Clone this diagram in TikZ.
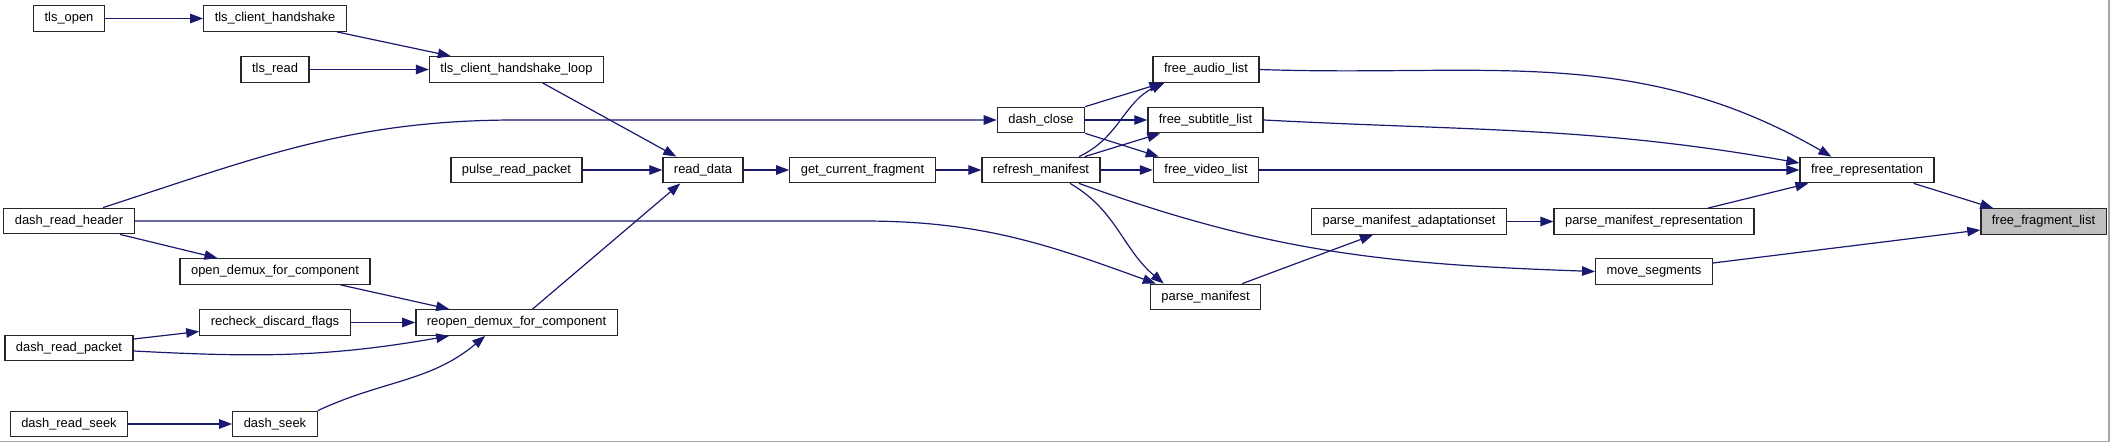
\documentclass[tikz,border=0pt]{standalone}
\usepackage{fontspec}
\setmainfont{Liberation Sans}
\usetikzlibrary{arrows.meta}
\definecolor{callblue}{RGB}{25,25,112}

\begin{document}
\begin{tikzpicture}[x=1pt,y=1pt,font=\fontsize{12.9}{15}\selectfont,>={Triangle[length=13pt,width=9.5pt]},
  fn/.style={draw=black!85,fill=white,line width=1.3pt,minimum height=25.5pt,inner xsep=11pt,inner ysep=0pt},
  cur/.style={fn,fill=black!25},
  cl/.style={->,draw=callblue,line width=1.2pt}]
  \useasboundingbox (0,0) rectangle (2111,-443);
  \draw[black!35,line width=1.5pt] (2109,0) -- (2109,-441.5) -- (0,-441.5);
  % callers, left to right
  \node[fn] (tlsopen) at (69,-18.5) {tls\_open};
  \node[fn] (tlshs) at (275,-18.5) {tls\_client\_handshake};
  \node[fn] (tlsread) at (275,-69.5) {tls\_read};
  \node[fn] (tlsloop) at (516.5,-69.5) {tls\_client\_handshake\_loop};
  \node[fn] (pulse) at (516.5,-170) {pulse\_read\_packet};
  \node[fn] (readdata) at (703,-170) {read\_data};
  \node[fn] (getfrag) at (862.5,-170) {get\_current\_fragment};
  \node[fn] (refresh) at (1041,-170) {refresh\_manifest};
  \node[fn] (dashclose) at (1041,-120) {dash\_close};
  \node[fn] (audio) at (1206,-69.5) {free\_audio\_list};
  \node[fn] (subtitle) at (1205.5,-120) {free\_subtitle\_list};
  \node[fn] (video) at (1206,-170) {free\_video\_list};
  \node[fn] (parsemf) at (1205.5,-297) {parse\_manifest};
  \node[fn] (adapt) at (1409,-221.5) {parse\_manifest\_adaptationset};
  \node[fn] (rep) at (1654,-221.5) {parse\_manifest\_representation};
  \node[fn] (moveseg) at (1654,-271.5) {move\_segments};
  \node[fn] (freerep) at (1867,-170) {free\_representation};
  \node[cur] (fraglist) at (2043.5,-221.5) {free\_fragment\_list};
  \node[fn] (header) at (69,-221) {dash\_read\_header};
  \node[fn] (opendemux) at (275,-271.5) {open\_demux\_for\_component};
  \node[fn] (recheck) at (275,-322.5) {recheck\_discard\_flags};
  \node[fn] (reopen) at (516.5,-322.5) {reopen\_demux\_for\_component};
  \node[fn] (packet) at (69,-348) {dash\_read\_packet};
  \node[fn] (readseek) at (69,-424) {dash\_read\_seek};
  \node[fn] (dashseek) at (275,-424) {dash\_seek};
  % calls
  \draw[cl] (tlsopen) -- (tlshs);
  \draw[cl] ([xshift=-10pt]tlshs.south east) -- ([xshift=22pt]tlsloop.north west);
  \draw[cl] (tlsread) -- (tlsloop);
  \draw[cl] ([xshift=26pt]tlsloop.south) -- ([xshift=14pt]readdata.north west);
  \draw[cl] (pulse) -- (readdata);
  \draw[cl] ([xshift=16pt]reopen.north) -- ([xshift=18pt]readdata.south west);
  \draw[cl] (readdata) -- (getfrag);
  \draw[cl] (getfrag) -- (refresh);
  \draw[cl] ([xshift=38pt]refresh.north) to[out=25,in=-155] ([xshift=12pt]audio.south west);
  \draw[cl] ([xshift=-16pt]refresh.north east) -- ([xshift=13pt]subtitle.south west);
  \draw[cl] (refresh) -- (video);
  \draw[cl] ([xshift=29pt]refresh.south) to[out=-30,in=140] ([xshift=14pt]parsemf.north west);
  \draw[cl] ([xshift=38pt]refresh.south) to[out=-20,in=178] (moveseg.west);
  \draw[cl] (dashclose.north east) -- ([xshift=10pt]audio.south west);
  \draw[cl] (dashclose) -- (subtitle);
  \draw[cl] (dashclose.south east) -- ([xshift=6pt]video.north west);
  \draw[cl] ([xshift=34pt]header.north) to[out=18,in=180] (tlsloop |- dashclose.west) -- (dashclose.west);
  \draw[cl] (header.east) -- (getfrag |- header.east) to[out=0,in=160] ([xshift=6pt]parsemf.north west);
  \draw[cl] ([xshift=51pt]header.south) -- ([xshift=38pt]opendemux.north west);
  \draw[cl] ([xshift=-30pt]opendemux.south east) -- ([xshift=34pt]reopen.north west);
  \draw[cl] (recheck) -- (reopen);
  \draw[cl] ([yshift=9pt]packet.east) -- ([yshift=-9pt]recheck.west);
  \draw[cl] ([yshift=-3pt]packet.east) to[out=-3,in=190] ([xshift=34pt]reopen.south west);
  \draw[cl] (dashseek.north east) to[out=25,in=-140] ([xshift=70pt]reopen.south west);
  \draw[cl] (readseek) -- (dashseek);
  \draw[cl] ([xshift=-19pt]parsemf.north east) -- ([xshift=62pt]adapt.south west);
  \draw[cl] (adapt) -- (rep);
  \draw[cl] ([xshift=54pt]rep.north) -- ([xshift=9pt]freerep.south west);
  \draw[cl] (audio.east) to[out=-2,in=150] ([xshift=32pt]freerep.north west);
  \draw[cl] (subtitle.east) to[out=-3,in=170] ([yshift=7pt]freerep.west);
  \draw[cl] (video) -- (freerep);
  \draw[cl] ([xshift=-21pt]freerep.south east) -- ([xshift=13pt]fraglist.north west);
  \draw[cl] ([yshift=8.5pt]moveseg.east) -- ([yshift=-8.5pt]fraglist.west);
\end{tikzpicture}
\end{document}
